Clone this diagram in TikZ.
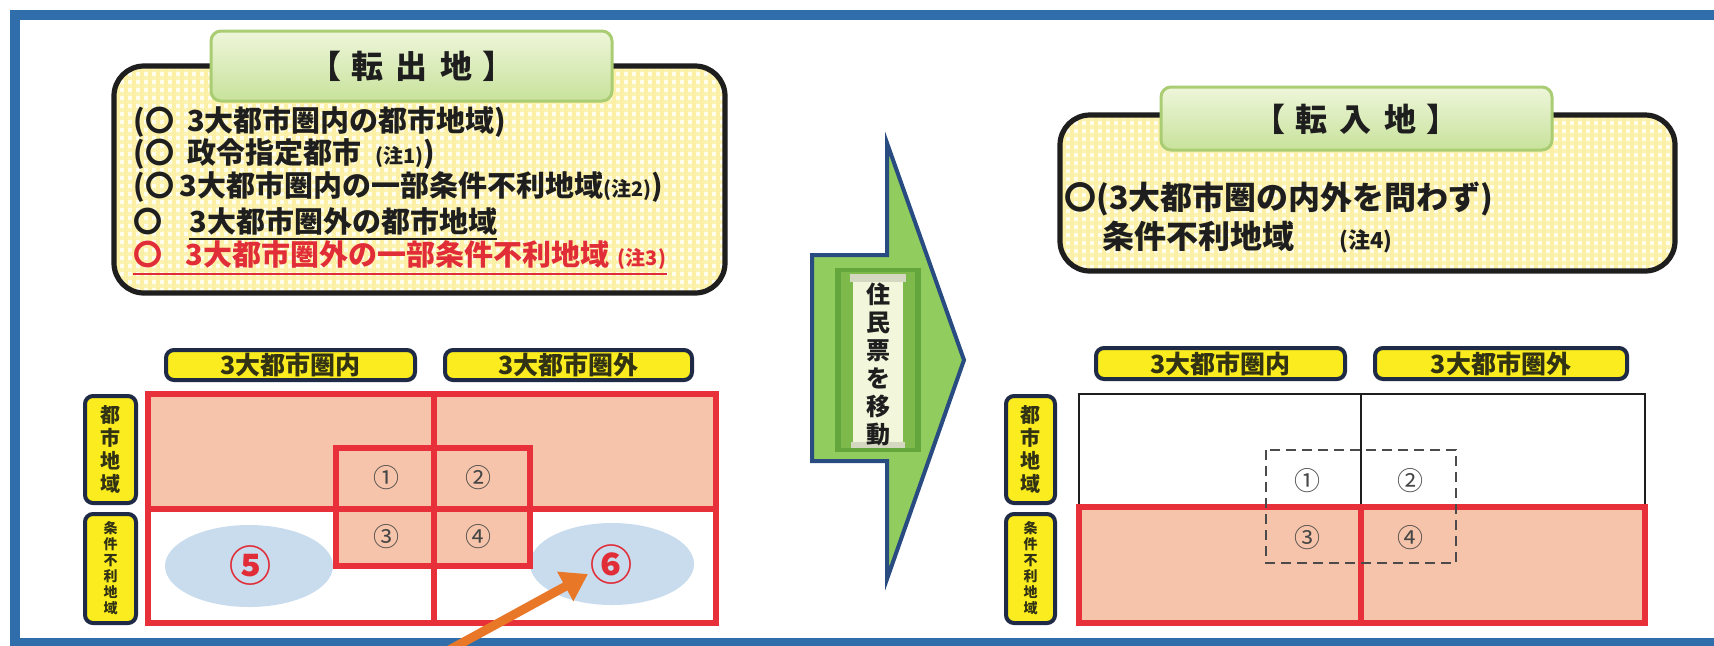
\documentclass[tikz,border=0pt]{standalone}
\usepackage{fontspec}
\newfontfamily\jp{Noto Sans CJK JP}
\usetikzlibrary{arrows.meta}
\definecolor{frameblue}{RGB}{47,110,170}
\definecolor{gridred}{RGB}{232,48,58}
\definecolor{salmon}{RGB}{246,196,170}
\definecolor{ellblue}{RGB}{200,220,238}
\definecolor{hdryellow}{RGB}{250,236,30}
\definecolor{hdrnavy}{RGB}{30,42,70}
\definecolor{hdrtext}{RGB}{50,50,20}
\definecolor{tabgreenA}{RGB}{238,246,218}
\definecolor{tabgreenB}{RGB}{200,226,155}
\definecolor{tabedge}{RGB}{170,205,115}
\definecolor{checkbg}{RGB}{255,253,235}
\definecolor{checkln}{RGB}{251,240,165}
\definecolor{arrowgreen}{RGB}{145,204,95}
\definecolor{arrowedge}{RGB}{40,75,130}
\definecolor{scrollgreen}{RGB}{100,165,60}
\definecolor{scrollinner}{RGB}{125,185,75}
\definecolor{paper}{RGB}{242,246,218}
\definecolor{textred}{RGB}{225,45,55}
\definecolor{orangearrow}{RGB}{232,120,40}
\definecolor{numgray}{RGB}{70,70,70}
\definecolor{ink}{RGB}{30,30,30}
\tikzset{
  boxedge/.style={draw=ink, line width=2.6pt, rounded corners=15pt},
  tabbox/.style={draw=tabedge, line width=1.5pt, rounded corners=5pt, top color=tabgreenA, bottom color=tabgreenB},
  tabtext/.style={font=\jp\bfseries\fontsize{16}{18}\selectfont, text=ink},
  boxline/.style={anchor=west, inner sep=0pt, font=\jp\bfseries\fontsize{14.5}{16}\selectfont, text=ink},
  bigline/.style={anchor=west, inner sep=0pt, font=\jp\bfseries\fontsize{16}{18}\selectfont, text=ink},
  yhdr/.style={draw=hdrnavy, fill=hdryellow, line width=2pt, rounded corners=4pt},
  colhdrtext/.style={font=\jp\bfseries\fontsize{12.5}{14}\selectfont, text=hdrtext},
  rowhdrA/.style={font=\jp\bfseries\fontsize{10}{11.5}\selectfont, text=hdrtext, align=center, inner sep=0pt},
  rowhdrB/.style={font=\jp\bfseries\fontsize{7}{8}\selectfont, text=hdrtext, align=center, inner sep=0pt},
  redline/.style={draw=gridred, line width=3pt},
  numtext/.style={font=\jp\fontsize{13}{14}\selectfont, text=numgray},
  bignum/.style={font=\jp\bfseries\fontsize{21}{22}\selectfont, text=textred},
  ellfill/.style={fill=ellblue}
}
\newcommand\gingham[4]{%
  \begin{scope}
  \clip[rounded corners=15pt] (#1,#2) rectangle (#3,#4);
  \fill[checkbg] (#1,#2) rectangle (#3,#4);
  \pgfmathsetmacro\gxa{#1+4}\pgfmathsetmacro\gxb{#1+12}
  \foreach \gx in {\gxa,\gxb,...,#3} \draw[checkln, line width=1.6pt] (\gx,#2) -- (\gx,#4);
  \pgfmathsetmacro\gya{#2+4}\pgfmathsetmacro\gyb{#2+12}
  \foreach \gy in {\gya,\gyb,...,#4} \draw[checkln, line width=1.6pt, opacity=0.8] (#1,\gy) -- (#3,\gy);
  \end{scope}}
\begin{document}
\begin{tikzpicture}[x=0.5pt,y=-0.5pt]
\useasboundingbox (0,0) rectangle (1714,645);
\fill[white] (0,0) rectangle (1714,645);
\draw[frameblue, line width=5pt] (15,15) rectangle (1760,643);

% ---------- left top box ----------
\gingham{114}{66}{725}{293}
\draw[boxedge] (114,66) rectangle (725,293);
\draw[tabbox] (211,31) rectangle (612,101);
\node[tabtext] (tabL) at (412,66) {【\hspace{0.3em}転\hspace{0.4em}出\hspace{0.4em}地\hspace{0.3em}】};

\node[boxline] (l1) at (133,122) {(〇\hspace{0.45em}3大都市圏内の都市地域)};
\node[boxline] (l2) at (133,154) {(〇\hspace{0.45em}政令指定都市\hspace{0.5em}{\fontsize{10}{10}\selectfont (注1)})};
\node[boxline] (l3) at (133,187) {(〇\hspace{0.2em}3大都市圏内の一部条件不利地域{\fontsize{10}{10}\selectfont (注2)})};
\node[boxline] (l4a) at (133,221) {〇};
\node[boxline] (l4b) at (189,221) {3大都市圏外の都市地域};
\draw[ink, line width=1pt] ([yshift=-2pt]l4b.south west) -- ([yshift=-2pt]l4b.south east);
\node[boxline, text=textred] (l5) at (133,255) {〇\hspace{0.8em}3大都市圏外の一部条件不利地域\hspace{0.3em}{\fontsize{10}{10}\selectfont (注3)}};
\draw[textred, line width=1pt] ([yshift=-2pt]l5.south west) -- ([yshift=-2pt]l5.south east);

% ---------- right top box ----------
\gingham{1060}{115}{1675}{271}
\draw[boxedge] (1060,115) rectangle (1675,271);
\draw[tabbox] (1161,87) rectangle (1552,150);
\node[tabtext] (tabR) at (1356,119) {【\hspace{0.3em}転\hspace{0.4em}入\hspace{0.4em}地\hspace{0.3em}】};
\node[bigline] (r1) at (1064,199) {〇(3大都市圏の内外を問わず)};
\node[bigline] (r2) at (1102,237) {条件不利地域\hspace{1.4em}{\fontsize{11}{11}\selectfont (注4)}};

% ---------- central arrow ----------
\draw[fill=arrowgreen, draw=arrowedge, line width=2pt, line join=miter]
  (812,255) -- (887,255) -- (887,143) -- (964,360) -- (887,579) -- (887,461) -- (812,461) -- cycle;
\fill[scrollgreen] (835,268) rectangle (921,452);
\fill[scrollinner] (841,272) rectangle (915,448);
\fill[paper] (853,278) rectangle (903,446);
\fill[paper!88!black] (850,274) rectangle (906,282);
\fill[paper!88!black] (851,442) rectangle (905,448);
\node[font=\jp\bfseries\fontsize{12}{14}\selectfont, text=ink, align=center, inner sep=0pt] (move) at (878,364) {住\\民\\票\\を\\移\\動};

% ---------- left grid ----------
\draw[yhdr] (166,350) rectangle (415,380);
\node[colhdrtext] (cL1) at (290.5,365) {3大都市圏内};
\draw[yhdr] (445,350) rectangle (692,380);
\node[colhdrtext] (cL2) at (568.5,365) {3大都市圏外};
\draw[yhdr] (85,396) rectangle (136,503);
\node[rowhdrA] (rL1) at (110.5,449.5) {都\\市\\地\\域};
\draw[yhdr] (85,514) rectangle (136,623);
\node[rowhdrB] (rL2) at (110.5,568.5) {条\\件\\不\\利\\地\\域};

\fill[salmon] (148,394) rectangle (716,509);
\fill[salmon] (336,509) rectangle (530,566);
\fill[ellfill] (249,566) ellipse [x radius=84, y radius=41];
\fill[ellfill] (612,564) ellipse [x radius=82, y radius=41];
\draw[redline] (148,394) rectangle (716,623);
\draw[redline] (434,394) -- (434,623);
\draw[redline] (148,509) -- (716,509);
\draw[redline] (336,448) rectangle (530,566);
\node[numtext] (n1L) at (386,478) {①};
\node[numtext] (n2L) at (478,478) {②};
\node[numtext] (n3L) at (386,537) {③};
\node[numtext] (n4L) at (478,537) {④};
\node[bignum] (n5) at (250,566) {⑤};
\node[bignum] (n6) at (611,565) {⑥};

\coordinate (oaS) at (440,655);
\coordinate (oaE) at (588,574);
\draw[orangearrow, line width=4.5pt, -{Triangle[length=13pt, width=16pt]}] (oaS) -- (oaE);

% ---------- right grid ----------
\draw[yhdr] (1096,348) rectangle (1345,379);
\node[colhdrtext] (cR1) at (1220.5,363.5) {3大都市圏内};
\draw[yhdr] (1375,348) rectangle (1627,379);
\node[colhdrtext] (cR2) at (1501,363.5) {3大都市圏外};
\draw[yhdr] (1006,396) rectangle (1055,503);
\node[rowhdrA] (rR1) at (1030.5,449.5) {都\\市\\地\\域};
\draw[yhdr] (1006,514) rectangle (1055,623);
\node[rowhdrB] (rR2) at (1030.5,568.5) {条\\件\\不\\利\\地\\域};

\draw[ink, line width=1pt] (1079,394) rectangle (1645,509);
\draw[ink, line width=1pt] (1361,394) -- (1361,509);
\fill[salmon] (1079,507) rectangle (1645,623);
\draw[redline] (1079,507) rectangle (1645,623);
\draw[redline] (1361,507) -- (1361,623);
\draw[ink!80, line width=1.2pt, dash pattern=on 5pt off 3pt] (1266,450) rectangle (1456,563);
\node[numtext] (n1R) at (1307,481) {①};
\node[numtext] (n2R) at (1410,481) {②};
\node[numtext] (n3R) at (1307,538) {③};
\node[numtext] (n4R) at (1410,538) {④};
\end{tikzpicture}
\end{document}
